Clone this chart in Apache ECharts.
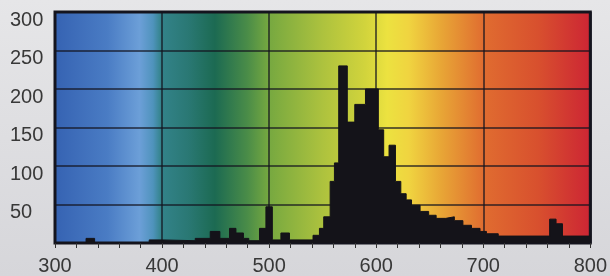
<!DOCTYPE html>
<html>
<head>
<meta charset="utf-8">
<script src="https://cdn.jsdelivr.net/npm/echarts@6/dist/echarts.min.js"></script>
<style>
  html, body { margin: 0; padding: 0; }
  body { background: linear-gradient(180deg, #e6e6e8 0%, #d6d6da 100%); }
  #spectrum { width: 610px; height: 276px; }
</style>
</head>
<body>
<div id="spectrum"></div>
<script>
// 光谱数据：每个台阶的起点波长 (nm) 和对应强度
var wavelength = [300,329,337,388,400,431,445,454,463,469,476,481,491,497,503,511,519,541,547,551,
                  557,561,565,573,580,590,602,607,612,618,623,628,633,641,649,656,665,673,681,689,
                  697,703,714,762,768,774,800];
var intensity  = [0,6,0,4,3,6,15,6,19,13,6,3,19,47,4,13,4,10,19,34,
                  80,104,230,157,180,200,147,112,127,80,64,56,49,41,36,32,34,29,23,19,
                  15,12,9,31,25,9,9];
// 坐标轴范围
var xRange = [300, 800];
var yRange = [0, 300];

// 背景色带 (可见光)
var spectrumStops = [
  [0.00, '#3562b2'], [0.10, '#4a7cc4'], [0.16, '#6c9fd8'], [0.185, '#4f93bc'],
  [0.20, '#33838a'], [0.25, '#2a7874'], [0.30, '#1c6a52'], [0.36, '#4a8c48'],
  [0.40, '#76a840'], [0.50, '#adc23e'], [0.58, '#d2d43c'], [0.62, '#ece240'],
  [0.66, '#f0d440'], [0.72, '#e8a636'], [0.80, '#e06c30'], [0.90, '#d8502e'],
  [1.00, '#cc2434']
];

function spectrum_chart(element){
  var obj = new Object;
  obj.myChart = echarts.init(document.getElementById(element));
  obj._init = function(){
    var points = [];
    for(var i = 0; i < wavelength.length; i++){
      points.push([wavelength[i], intensity[i]]);
    }
    var stops = [];
    for(var j = 0; j < spectrumStops.length; j++){
      stops.push({offset: spectrumStops[j][0], color: spectrumStops[j][1]});
    }
    obj.option = {
      animation: false,
      grid: {
        left: 55, right: 17, top: 12, bottom: 33,
        show: true,
        borderColor: '#16161e',
        borderWidth: 3,
        backgroundColor: new echarts.graphic.LinearGradient(0, 0, 1, 0, stops)
      },
      xAxis: {
        type: 'value',
        min: xRange[0], max: xRange[1], interval: 100,
        axisLine: { show: false },
        axisTick: { show: true, inside: false, length: 5, lineStyle: { color: '#333', width: 1 } },
        minorTick: { show: true, splitNumber: 5, length: 5, lineStyle: { color: '#333', width: 1 } },
        splitLine: { show: true, lineStyle: { color: 'rgba(20,20,30,0.85)', width: 1.5 } },
        axisLabel: {
          margin: 13, fontSize: 20, color: '#383838',
          fontFamily: 'Liberation Sans, Arial, sans-serif'
        }
      },
      yAxis: {
        type: 'value',
        min: yRange[0], max: yRange[1], interval: 50,
        axisLine: { show: false },
        axisTick: { show: false },
        splitLine: { show: true, lineStyle: { color: 'rgba(20,20,30,0.85)', width: 1.5 } },
        axisLabel: {
          showMinLabel: false,
          align: 'left', verticalAlign: 'top', lineHeight: 16,
          margin: 45, fontSize: 20, color: '#383838',
          fontFamily: 'Liberation Sans, Arial, sans-serif'
        }
      },
      series: [{
        type: 'line',
        step: 'end',
        data: points,
        showSymbol: false,
        lineStyle: { color: '#141319', width: 1 },
        areaStyle: { color: '#141319', opacity: 1 }
      }]
    };
    obj.myChart.setOption(obj.option);
  }
  obj._init();
  return obj;
}

spectrum_chart('spectrum');
</script>
</body>
</html>
